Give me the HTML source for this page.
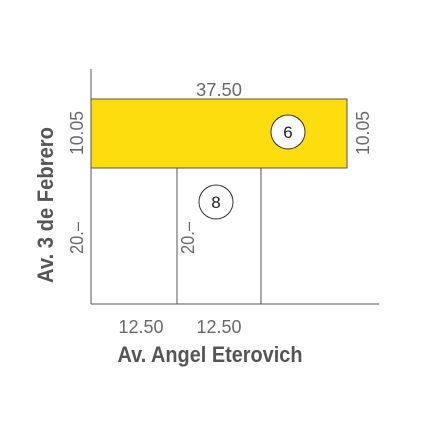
<!DOCTYPE html>
<html><head><meta charset="utf-8"><style>
html,body{margin:0;padding:0;background:#fff;}
svg{display:block;font-family:"Liberation Sans",sans-serif;}
.dim{font-size:18px;fill:#6a6a6a;font-weight:300;}
.lbl{font-size:22px;fill:#555;font-weight:bold;}
</style></head><body>
<svg width="431" height="431" viewBox="0 0 431 431">
<rect width="431" height="431" fill="#fff"/>
<line x1="91" y1="69" x2="91" y2="304" stroke="#555" stroke-width="1"/>
<line x1="91" y1="304" x2="379" y2="304" stroke="#555" stroke-width="1"/>
<rect x="91" y="99" width="256" height="69" fill="#fddd0e" stroke="#555" stroke-width="1"/>
<line x1="177" y1="168" x2="177" y2="304" stroke="#555"/>
<line x1="261" y1="168" x2="261" y2="304" stroke="#555"/>
<circle cx="288" cy="132" r="17" fill="#fff" stroke="#333"/>
<text x="288" y="138" text-anchor="middle" font-size="17" fill="#222">6</text>
<circle cx="216" cy="202" r="17" fill="#fff" stroke="#333"/>
<text x="216" y="208" text-anchor="middle" font-size="17" fill="#222">8</text>
<text class="dim" x="219" y="96" text-anchor="middle" textLength="46" lengthAdjust="spacingAndGlyphs">37.50</text>
<text class="dim" transform="translate(83,133) rotate(-90)" text-anchor="middle" textLength="44" lengthAdjust="spacingAndGlyphs">10.05</text>
<text class="dim" transform="translate(369,133) rotate(-90)" text-anchor="middle" textLength="44" lengthAdjust="spacingAndGlyphs">10.05</text>
<text class="dim" transform="translate(83,238) rotate(-90)" text-anchor="middle" textLength="32" lengthAdjust="spacingAndGlyphs">20.–</text>
<text class="dim" transform="translate(194,238) rotate(-90)" text-anchor="middle" textLength="32" lengthAdjust="spacingAndGlyphs">20.–</text>
<text class="dim" x="141" y="333" text-anchor="middle" textLength="45" lengthAdjust="spacingAndGlyphs">12.50</text>
<text class="dim" x="219" y="333" text-anchor="middle" textLength="45" lengthAdjust="spacingAndGlyphs">12.50</text>
<text class="lbl" x="210" y="362" text-anchor="middle" textLength="185" lengthAdjust="spacingAndGlyphs">Av. Angel Eterovich</text>
<text class="lbl" transform="translate(53,205) rotate(-90)" text-anchor="middle" textLength="156" lengthAdjust="spacingAndGlyphs">Av. 3 de Febrero</text>
</svg>
</body></html>
